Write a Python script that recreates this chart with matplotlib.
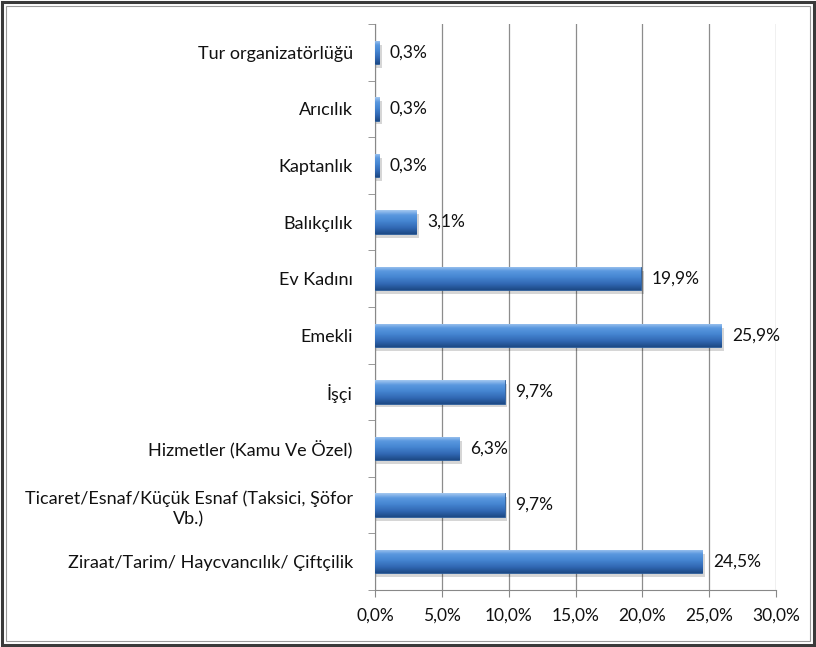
import matplotlib
matplotlib.use("Agg")
import matplotlib.pyplot as plt
import numpy as np
from matplotlib.patches import Rectangle
from matplotlib.colors import LinearSegmentedColormap

categories = [
    "Ziraat/Tarim/ Haycvancılık/ Çiftçilik",
    "Ticaret/Esnaf/Küçük Esnaf (Taksici, Şöfor\nVb.)",
    "Hizmetler (Kamu Ve Özel)",
    "İşçi",
    "Emekli",
    "Ev Kadını",
    "Balıkçılık",
    "Kaptanlık",
    "Arıcılık",
    "Tur organizatörlüğü",
]
values = [24.5, 9.7, 6.3, 9.7, 25.9, 19.9, 3.1, 0.3, 0.3, 0.3]
xticks = [0, 5, 10, 15, 20, 25, 30]

plt.rcParams['font.family'] = ['Lato', 'DejaVu Sans']

fig = plt.figure(figsize=(8.16, 6.47), dpi=100)
W, H = 816, 647
ax = fig.add_axes([375 / W, 1 - 590 / H, (776 - 375) / W, (590 - 24) / H])

y = np.arange(len(categories))
bh = 0.41
bars = ax.barh(y, values, height=bh, color="#4a86cf", zorder=3)

cmap = LinearSegmentedColormap.from_list(
    "cyl", [(0.0, "#1d4a86"), (0.25, "#3168b3"), (0.55, "#4686d2"),
            (0.8, "#5a98df"), (1.0, "#a4c8f0")])
grad = np.linspace(0, 1, 64).reshape(-1, 1)
for b in bars:
    x0, y0, w, h = b.get_x(), b.get_y(), b.get_width(), b.get_height()
    sh = Rectangle((x0, y0 - 0.07), w + 0.2, h, facecolor="#000000",
                   alpha=0.16, edgecolor="none", zorder=2)
    ax.add_patch(sh)
    im = ax.imshow(grad, cmap=cmap, aspect="auto",
                   extent=(x0, x0 + w, y0, y0 + h), origin="lower", zorder=4)
    im.set_clip_path(b)
    b.set_edgecolor("#2a5a96")
    b.set_linewidth(0.6)

for yi, v in zip(y, values):
    ax.text(v + 0.8, yi, f"{v:.1f}%".replace(".", ","), va="center",
            ha="left", fontsize=12.5, color="#111111", zorder=5)

ax.set_xlim(0, 30)
ax.set_ylim(-0.5, len(categories) - 0.5)
ax.set_xticks(xticks)
ax.set_xticklabels([f"{t:.1f}%".replace(".", ",") for t in xticks],
                   fontsize=12.5, color="#111111")
ax.set_yticks(y)
ax.set_yticklabels(categories, fontsize=13, ha="right", color="#111111")
for lab in ax.get_yticklabels():
    lab.set_multialignment("center")
    lab.set_linespacing(1.35)
ax.set_yticks(np.arange(-0.5, len(categories), 1), minor=True)
ax.tick_params(axis="y", which="major", length=0, pad=16)
ax.tick_params(axis="y", which="minor", length=5, color="#888888", direction="out")
ax.tick_params(axis="x", length=5, color="#888888", pad=8)
ax.xaxis.grid(True, color="#8c8c8c", linewidth=0.9, zorder=0)
ax.set_axisbelow(True)
for s in ["top", "right"]:
    ax.spines[s].set_visible(False)
ax.spines["left"].set_color("#888888")
ax.spines["bottom"].set_color("#888888")

fig.patches.append(Rectangle((2 / W, 2 / H), 1 - 4 / W, 1 - 4 / H,
                             transform=fig.transFigure, fill=False,
                             edgecolor="#3a3a3a", linewidth=2.2))
fig.patches.append(Rectangle((6 / W, 6 / H), 1 - 12 / W, 1 - 12 / H,
                             transform=fig.transFigure, fill=False,
                             edgecolor="#9a9a9a", linewidth=0.8))

fig.savefig("out.png", dpi=100, facecolor="white")
